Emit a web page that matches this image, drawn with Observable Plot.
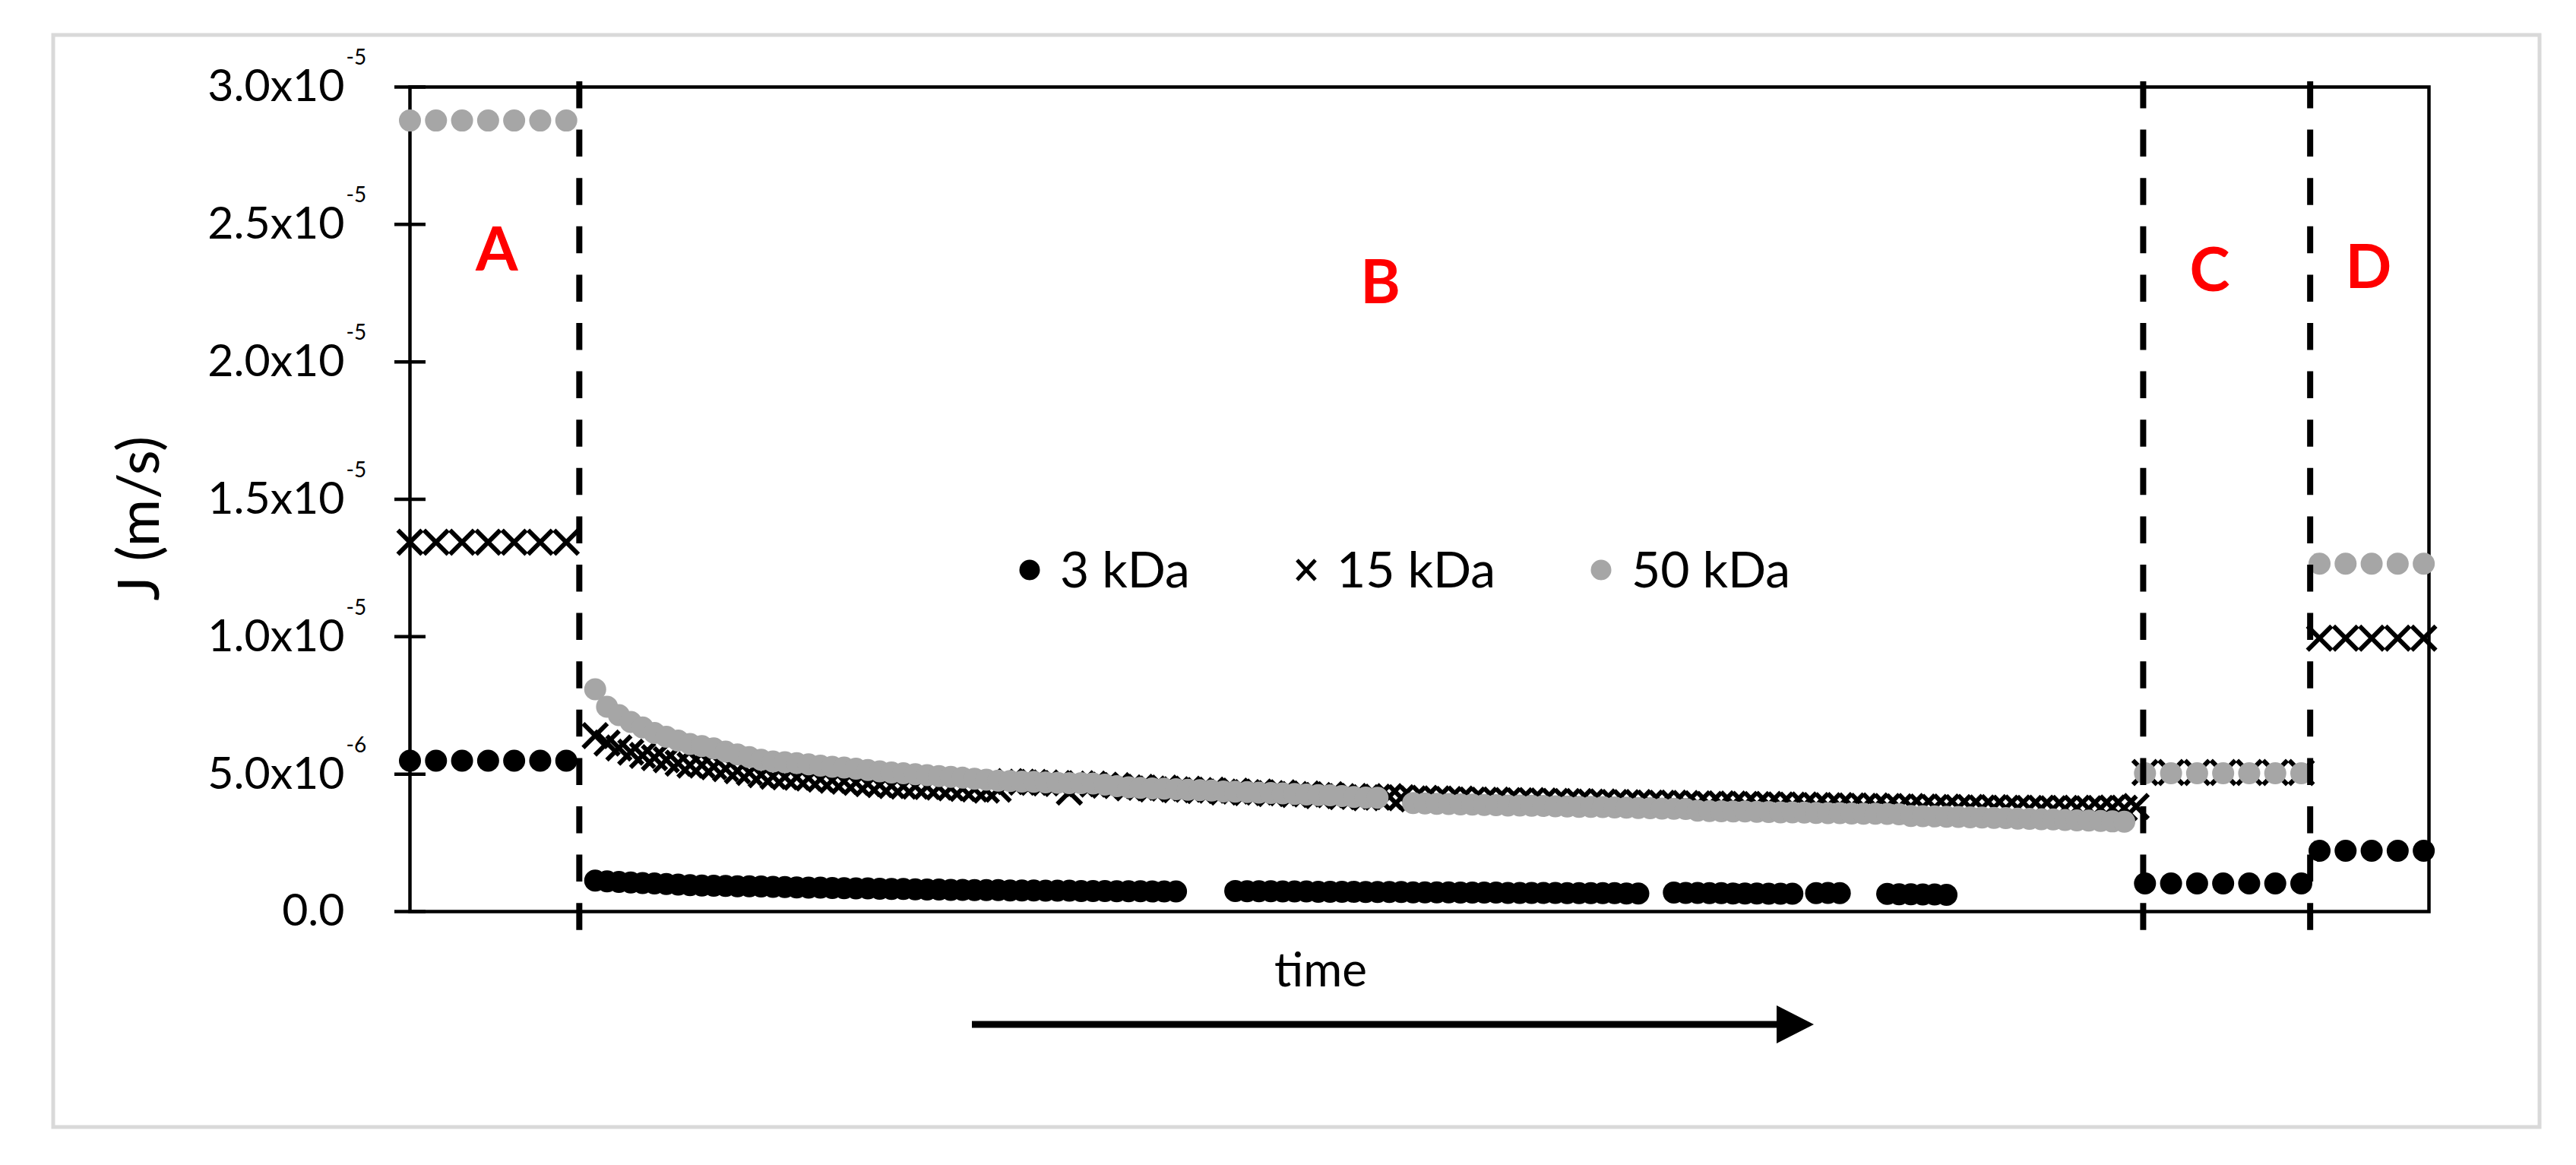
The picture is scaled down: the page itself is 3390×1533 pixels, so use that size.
<!DOCTYPE html>
<html>
<head>
<meta charset="utf-8">
<script src="https://cdn.jsdelivr.net/npm/d3@7"></script>
<script src="https://cdn.jsdelivr.net/npm/@observablehq/plot@0.6"></script>
<style>
  html, body { margin: 0; padding: 0; background: #fff; }
  #wrap { position: relative; width: 3390px; height: 1533px; overflow: hidden; background: #fff; }
  #wrap svg { position: absolute; left: 0; top: 0; }
</style>
</head>
<body>
<div id="wrap"></div>
<script>
// ---------------- DATA (J in units of 1e-6 m/s, time in arbitrary units) ----------------
const seriesNames = ["3 kDa", "15 kDa", "50 kDa"];

// Stage A (7 readings)
const timeA = [0, 10, 20, 30, 40, 50, 60];
const kDa3_A  = [5.49, 5.49, 5.49, 5.49, 5.49, 5.49, 5.49];
const kDa15_A = [13.44, 13.44, 13.44, 13.44, 13.44, 13.44, 13.44];
const kDa50_A = [28.78, 28.78, 28.78, 28.78, 28.78, 28.78, 28.78];

// Stage B (dense readings, one every 4.55 time units starting at 71.1)
const timeB_start = 71.1;
const timeB_step = 4.55;
const kDa3_B = [
  1.13, 1.10, 1.08, 1.06, 1.04, 1.02, 1.00, 0.98, 0.96, 0.95,
  0.94, 0.93, 0.92, 0.92, 0.91, 0.90, 0.89, 0.88, 0.87, 0.87,
  0.86, 0.85, 0.84, 0.84, 0.83, 0.82, 0.82, 0.81, 0.80, 0.80,
  0.79, 0.79, 0.78, 0.78, 0.78, 0.77, 0.77, 0.77, 0.76, 0.76,
  0.76, 0.75, 0.75, 0.75, 0.74, 0.74, 0.74, 0.73, 0.73, 0.73,
  null, null, null, null, 0.75, 0.74, 0.74, 0.74, 0.73, 0.73,
  0.73, 0.72, 0.72, 0.72, 0.72, 0.71, 0.71, 0.71, 0.71, 0.70,
  0.70, 0.70, 0.70, 0.69, 0.69, 0.69, 0.69, 0.68, 0.68, 0.68,
  0.68, 0.68, 0.67, 0.67, 0.67, 0.67, 0.67, 0.66, 0.66, null,
  null, 0.69, 0.68, 0.68, 0.67, 0.67, 0.66, 0.66, 0.66, 0.65,
  0.65, 0.65, null, 0.67, 0.68, 0.67, null, null, null, 0.64,
  0.63, 0.63, 0.62, 0.62, 0.61, null, null, null, null, null,
  null, null, null, null, null, null, null, null, null, null,
  null
];
const kDa15_B = [
  6.40, 6.13, 5.95, 5.80, 5.68, 5.60, 5.52, 5.40, 5.33, 5.33,
  5.27, 5.20, 5.12, 5.06, 4.98, 4.92, 4.90, 4.89, 4.86, 4.82,
  4.78, 4.74, 4.70, 4.65, 4.62, 4.58, 4.56, 4.56, 4.55, 4.53,
  4.50, 4.48, 4.46, 4.42, 4.45, 4.73, 4.71, 4.70, 4.68, 4.66,
  4.35, 4.65, 4.64, 4.60, 4.58, 4.50, 4.52, 4.46, 4.49, 4.43,
  4.45, 4.40, 4.42, 4.35, 4.38, 4.33, 4.35, 4.29, 4.32, 4.26,
  4.28, 4.22, 4.25, 4.18, 4.19, 4.14, 4.16, 4.18, 4.14, 4.10,
  4.12, 4.10, 4.08, 4.09, 4.06, 4.05, 4.06, 4.04, 4.03, 4.04,
  4.02, 4.01, 4.00, 4.00, 3.98, 3.99, 3.97, 3.96, 3.97, 3.95,
  3.94, 3.95, 3.93, 3.92, 3.90, 3.92, 3.91, 3.90, 3.89, 3.90,
  3.88, 3.87, 3.88, 3.86, 3.85, 3.86, 3.84, 3.83, 3.84, 3.82,
  3.81, 3.82, 3.80, 3.79, 3.80, 3.78, 3.79, 3.77, 3.78, 3.76,
  3.77, 3.75, 3.76, 3.74, 3.75, 3.76, 3.74, 3.75, 3.77, 3.76,
  3.82
];
const kDa50_B = [
  8.09, 7.45, 7.15, 6.90, 6.70, 6.50, 6.36, 6.22, 6.10, 6.02,
  5.94, 5.82, 5.72, 5.62, 5.52, 5.46, 5.43, 5.40, 5.36, 5.31,
  5.27, 5.24, 5.20, 5.15, 5.10, 5.06, 5.03, 5.00, 4.96, 4.93,
  4.90, 4.87, 4.83, 4.80, 4.76, 4.75, 4.73, 4.72, 4.70, 4.69,
  4.67, 4.67, 4.66, 4.62, 4.56, 4.52, 4.50, 4.48, 4.47, 4.45,
  4.43, 4.42, 4.40, 4.37, 4.36, 4.35, 4.33, 4.31, 4.30, 4.28,
  4.26, 4.24, 4.23, 4.20, 4.17, 4.15, 4.14, null, null, 3.95,
  3.93, 3.92, 3.91, 3.90, 3.89, 3.88, 3.87, 3.86, 3.86, 3.85,
  3.84, 3.83, 3.82, 3.81, 3.81, 3.80, 3.79, 3.78, 3.77, 3.76,
  3.75, 3.74, 3.73, 3.67, 3.66, 3.65, 3.64, 3.64, 3.63, 3.62,
  3.61, 3.61, 3.60, 3.59, 3.58, 3.58, 3.57, 3.56, 3.56, 3.55,
  3.54, 3.48, 3.47, 3.46, 3.45, 3.44, 3.43, 3.42, 3.41, 3.40,
  3.38, 3.37, 3.36, 3.35, 3.33, 3.32, 3.31, 3.30, 3.28, 3.27,
  null
];

// Stage C (7 readings)
const timeC = [666, 676, 686, 696, 706, 716, 726];
const kDa3_C  = [1.02, 1.02, 1.02, 1.02, 1.02, 1.02, 1.02];
const kDa15_C = [5.06, 5.06, 5.06, 5.06, 5.06, 5.06, 5.06];
const kDa50_C = [5.03, 5.03, 5.03, 5.03, 5.03, 5.03, 5.03];

// Stage D (5 readings)
const timeD = [733, 743, 753, 763, 773];
const kDa3_D  = [2.21, 2.21, 2.21, 2.21, 2.21];
const kDa15_D = [9.95, 9.95, 9.95, 9.95, 9.95];
const kDa50_D = [12.66, 12.66, 12.66, 12.66, 12.66];

// Stage boundaries (time) and stage letters
const stageBoundaries = [65, 665.3, 729.4];
const stageLetters = ["A", "B", "C", "D"];
const stageLetterTime = [33.3, 372.5, 690.8, 751.8];
const stageLetterJ = [24.03, 22.84, 23.28, 23.39];

// Axis
const yTicks = [0, 5e-6, 1e-5, 1.5e-5, 2e-5, 2.5e-5, 3e-5];
const xDomain = [0, 775];
const yDomain = [0, 3e-5];
const yTitle = "J (m/s)";
const xTitle = "time";

// ---------------- BUILD TABLES ----------------
const timeB = kDa50_B.map((_, i) => timeB_start + timeB_step * i);
function rows(times, vals, series) {
  return times.map((t, i) => ({t, J: vals[i] == null ? null : vals[i] * 1e-6, series}))
              .filter(d => d.J != null);
}
const d3k = [...rows(timeA, kDa3_A, "3 kDa"), ...rows(timeB, kDa3_B, "3 kDa"),
             ...rows(timeC, kDa3_C, "3 kDa"), ...rows(timeD, kDa3_D, "3 kDa")];
const d15k = [...rows(timeA, kDa15_A, "15 kDa"), ...rows(timeB, kDa15_B, "15 kDa"),
              ...rows(timeC, kDa15_C, "15 kDa"), ...rows(timeD, kDa15_D, "15 kDa")];
const d50k = [...rows(timeA, kDa50_A, "50 kDa"), ...rows(timeB, kDa50_B, "50 kDa"),
              ...rows(timeC, kDa50_C, "50 kDa"), ...rows(timeD, kDa50_D, "50 kDa")];
const letters = stageLetters.map((s, i) => ({label: s, t: stageLetterTime[i], J: stageLetterJ[i] * 1e-6}));

function expOf(v) { return Math.floor(Math.log10(v) + 1e-9); }
function mantissaLabel(v) {
  if (v === 0) return "0.0";
  const e = expOf(v);
  return (v / Math.pow(10, e)).toFixed(1) + "x10";
}
function expLabel(v) { return String(expOf(v)); }

const FONT = "Lato, 'Open Sans', sans-serif";
const GRAY = "#a6a6a6";

const chart = Plot.plot({
  width: 3390,
  height: 1533,
  marginLeft: 539,
  marginRight: 194,
  marginTop: 114,
  marginBottom: 334,
  x: {domain: xDomain, axis: null},
  y: {domain: yDomain, axis: null},
  style: {fontFamily: FONT, background: "transparent", color: "black", overflow: "visible"},
  marks: [
    Plot.frame({stroke: "black", strokeWidth: 4.5}),
    Plot.ruleY(yTicks, {y: d => d, x1: () => xDomain[0], x2: () => xDomain[0],
                        insetLeft: -20, insetRight: -21, stroke: "black", strokeWidth: 4.5}),
    Plot.dot(d3k, {x: "t", y: "J", r: 14.5, fill: "black", stroke: "none"}),
    Plot.dot(d15k, {x: "t", y: "J", r: 14.5, symbol: "times", stroke: "black", strokeWidth: 6}),
    Plot.dot(d50k, {x: "t", y: "J", r: 14.5, fill: GRAY, stroke: "none"}),
    Plot.ruleX(stageBoundaries, {x: d => d, stroke: "black", strokeWidth: 8,
                                 strokeDasharray: "35.5,28.1", insetTop: -7, insetBottom: -25}),
    Plot.text(yTicks, {y: d => d, text: d => mantissaLabel(d), frameAnchor: "left",
                       dx: -86, textAnchor: "end", lineAnchor: "middle", fontSize: 59, fill: "black"}),
    Plot.text(yTicks.filter(d => d !== 0), {y: d => d, text: d => expLabel(d), frameAnchor: "left",
                       dx: -84, dy: -38, textAnchor: "start", lineAnchor: "middle", fontSize: 28, fill: "black"}),
    Plot.text([yTitle], {text: d => d, frameAnchor: "left", rotate: -90, dx: -355, dy: 25,
                         textAnchor: "middle", lineAnchor: "middle", fontSize: 76, fill: "black"}),
    Plot.text([xTitle], {text: d => d, frameAnchor: "bottom", dx: -130, dy: 79,
                         textAnchor: "middle", lineAnchor: "middle", fontSize: 62, fill: "black"}),
    Plot.text(letters, {x: "t", y: "J", text: "label", fill: "#ff0000", fontWeight: "bold", fontSize: 80,
                        textAnchor: "middle", lineAnchor: "middle"})
  ]
});

const wrap = document.getElementById("wrap");

// outer light frame (behind)
const bg = d3.create("svg").attr("width", 3390).attr("height", 1533);
bg.append("rect").attr("x", 70).attr("y", 46).attr("width", 3272).attr("height", 1437)
  .attr("fill", "none").attr("stroke", "#d9d9d9").attr("stroke-width", 5);
wrap.appendChild(bg.node());
wrap.appendChild(chart);

// decorations: legend and time arrow
const deco = d3.create("svg").attr("width", 3390).attr("height", 1533)
  .style("pointer-events", "none").style("font-family", FONT);
// arrow
deco.append("line").attr("x1", 1279).attr("x2", 2342).attr("y1", 1348).attr("y2", 1348)
  .attr("stroke", "black").attr("stroke-width", 9);
deco.append("path").attr("d", "M2338,1323L2387,1348L2338,1373Z").attr("fill", "black");
// legend
const legend = deco.append("g").attr("font-size", 66).attr("fill", "black");
const legendX = [1355, 1719, 2107];
seriesNames.forEach((name, i) => {
  const cx = legendX[i], cy = 750;
  if (i === 0) legend.append("circle").attr("cx", cx).attr("cy", cy).attr("r", 13.5).attr("fill", "black");
  if (i === 2) legend.append("circle").attr("cx", cx).attr("cy", cy).attr("r", 13.5).attr("fill", GRAY);
  if (i === 1) legend.append("path")
    .attr("d", `M${cx-12},${cy-13}L${cx+12},${cy+13}M${cx-12},${cy+13}L${cx+12},${cy-13}`)
    .attr("stroke", "black").attr("stroke-width", 5);
  legend.append("text").attr("x", cx + 40).attr("y", 773).text(name);
});
wrap.appendChild(deco.node());
</script>
</body>
</html>
